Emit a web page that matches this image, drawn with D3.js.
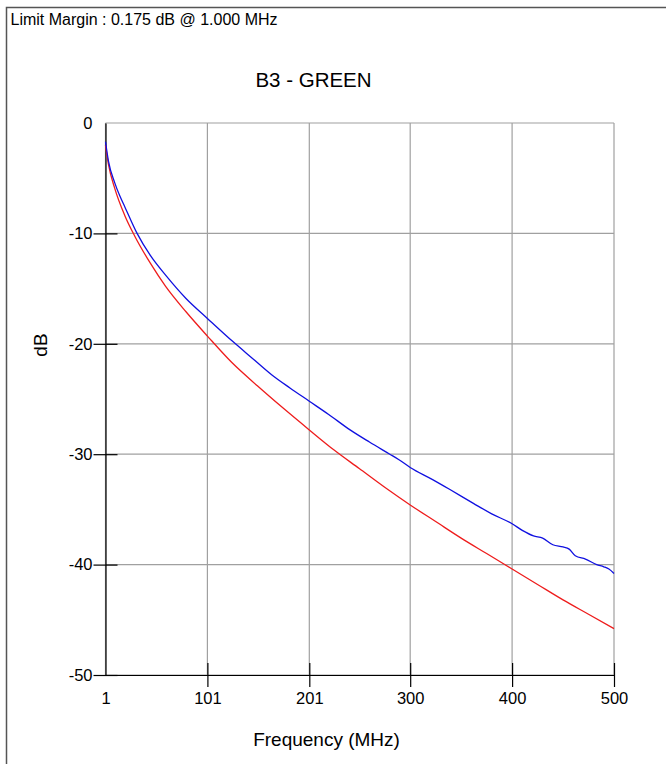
<!DOCTYPE html>
<html>
<head>
<meta charset="utf-8">
<script src="https://cdn.jsdelivr.net/npm/d3@7"></script>
<style>
  html, body { margin: 0; padding: 0; background: #fff; }
  svg { display: block; font-family: "Liberation Sans", Arial, sans-serif; }
</style>
</head>
<body>
<svg id="chart" width="666" height="764"></svg>
<script>
// ---- data ----
const xTicks = [1, 101, 201, 300, 400, 500];
const yTicks = [0, -10, -20, -30, -40, -50];

const limitFreq = [1, 4, 10, 20, 30, 45, 60, 80, 101, 125, 150, 175, 201, 225, 250, 275, 300, 325, 350, 375, 400, 425, 450, 475, 500];
const limitDb   = [-2.0, -3.8, -5.9, -8.4, -10.3, -12.7, -14.8, -17.1, -19.3, -21.7, -23.8, -25.8, -27.8, -29.6, -31.3, -33.0, -34.6, -36.1, -37.6, -39.0, -40.4, -41.8, -43.2, -44.5, -45.8];

const measFreq = [1, 4, 10, 15, 20, 32, 45, 61, 80, 101, 126, 145, 164, 182, 201, 220, 241, 260, 280, 289, 300, 322, 339, 362, 380, 400, 410, 421, 430, 440, 450, 456, 462, 472, 483, 490, 495, 500];
const measDb   = [-1.7, -3.5, -5.4, -6.6, -7.6, -10.0, -12.0, -13.9, -15.9, -17.7, -19.8, -21.3, -22.8, -24.0, -25.2, -26.4, -27.8, -28.9, -30.0, -30.5, -31.2, -32.3, -33.2, -34.45, -35.4, -36.3, -36.9, -37.4, -37.6, -38.2, -38.4, -38.6, -39.2, -39.5, -40.0, -40.2, -40.4, -40.8];

const titleText = "B3 - GREEN";
const headerText = "Limit Margin : 0.175 dB @ 1.000 MHz";
const xLabel = "Frequency (MHz)";
const yLabel = "dB";

// ---- layout ----
const svg = d3.select("#chart");
const L = 105.5, R = 614, T = 123, B = 675;

const x = d3.scaleLinear().domain([1, 500]).range([L, R]);
const y = d3.scaleLinear().domain([-50, 0]).range([B, T]);

// outer frame
svg.append("rect")
  .attr("x", 6.5).attr("y", 7.5)
  .attr("width", 720).attr("height", 820)
  .attr("fill", "none").attr("stroke", "#555").attr("stroke-width", 1.5);

svg.append("text")
  .attr("x", 10.5).attr("y", 25)
  .attr("font-size", 16).attr("fill", "#000")
  .text(headerText);

svg.append("text")
  .attr("x", 313.5).attr("y", 87)
  .attr("text-anchor", "middle")
  .attr("font-size", 20.5).attr("fill", "#000")
  .text(titleText);

// gridlines
const grid = svg.append("g").attr("stroke", "#a0a0a0").attr("stroke-width", 1.2);
xTicks.forEach(t => {
  grid.append("line").attr("x1", x(t)).attr("x2", x(t)).attr("y1", T).attr("y2", B);
});
yTicks.forEach(t => {
  grid.append("line").attr("x1", L).attr("x2", R).attr("y1", y(t)).attr("y2", y(t));
});

// axes
const fmt = d => String(d);
const xAxis = d3.axisBottom(x).tickValues(xTicks).tickSizeInner(12).tickSizeOuter(0).tickPadding(5).tickFormat(fmt);
const yAxis = d3.axisLeft(y).tickValues(yTicks).tickSizeInner(12).tickSizeOuter(0).tickPadding(1).tickFormat(fmt);

const gx = svg.append("g").attr("transform", `translate(0,${B})`).call(xAxis);
const gy = svg.append("g").attr("transform", `translate(${L},0)`).call(yAxis);

[gx, gy].forEach(g => {
  g.attr("font-size", 16.5).attr("font-family", "'Liberation Sans', Arial, sans-serif");
  g.select(".domain").attr("stroke", "#000").attr("stroke-width", 1.2);
  g.selectAll(".tick line").attr("stroke", "#000").attr("stroke-width", 1.2);
  g.selectAll(".tick text").attr("font-size", 16.5).attr("fill", "#000");
});
// ticks cross the axis (extend inside too); none at the origin-side ends
gx.selectAll(".tick line").attr("y1", -12).attr("y2", 12)
  .filter(d => d === 1).remove();
gy.selectAll(".tick line").attr("x1", 12).attr("x2", -12)
  .filter(d => d === 0).remove();

// axis labels
svg.append("text")
  .attr("x", 326.5).attr("y", 746)
  .attr("text-anchor", "middle")
  .attr("font-size", 19).attr("fill", "#000")
  .text(xLabel);

svg.append("text")
  .attr("transform", "translate(47,345) rotate(-90)")
  .attr("text-anchor", "middle")
  .attr("font-size", 19).attr("fill", "#000")
  .text(yLabel);

// curves
const line = d3.line().x(d => x(d[0])).y(d => y(d[1])).curve(d3.curveMonotoneX);
const limitPts = limitFreq.map((f, i) => [f, limitDb[i]]);
const measPts = measFreq.map((f, i) => [f, measDb[i]]);

svg.append("path")
  .attr("d", line(limitPts))
  .attr("fill", "none").attr("stroke", "#ee1c1c").attr("stroke-width", 1.3);

svg.append("path")
  .attr("d", line(measPts))
  .attr("fill", "none").attr("stroke", "#1010e0").attr("stroke-width", 1.3);
</script>
</body>
</html>
